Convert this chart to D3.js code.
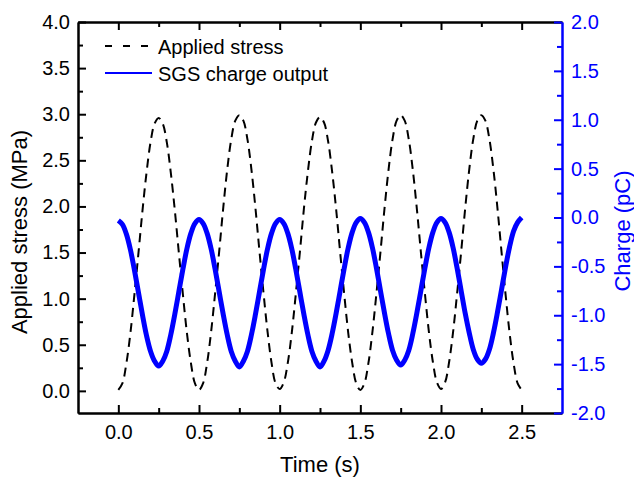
<!DOCTYPE html>
<html>
<head>
<meta charset="utf-8">
<script src="https://cdn.jsdelivr.net/npm/d3@7"></script>
<style>
  html, body { margin: 0; padding: 0; background: #fff; }
  text { font-family: "Liberation Sans", Arial, sans-serif; }
</style>
</head>
<body>
<svg id="chart" width="634" height="478"></svg>
<script>
// ---- data ----
const timeStart = 0, timeStep = 0.025; // seconds, sampling of both series
const stressMPa = [
  0.01, 0.08, 0.30, 0.63, 1.05, 1.50, 1.96, 2.37, 2.70, 2.90, 2.96, 2.90, 2.70, 2.37, 1.96, 1.50, 1.05, 0.63, 0.30, 0.08, 0.01,
  0.08, 0.30, 0.64, 1.06, 1.51, 1.98, 2.40, 2.73, 2.93, 2.99, 2.93, 2.73, 2.40, 1.98, 1.51, 1.06, 0.64, 0.30, 0.08, 0.02,
  0.09, 0.30, 0.63, 1.05, 1.50, 1.97, 2.38, 2.71, 2.91, 2.97, 2.91, 2.71, 2.38, 1.97, 1.50, 1.05, 0.63, 0.30, 0.08, 0.01,
  0.08, 0.30, 0.64, 1.06, 1.51, 1.98, 2.40, 2.73, 2.93, 2.99, 2.93, 2.73, 2.40, 1.98, 1.51, 1.06, 0.64, 0.31, 0.09, 0.02,
  0.09, 0.31, 0.64, 1.06, 1.51, 1.98, 2.40, 2.73, 2.93, 2.99, 2.93, 2.73, 2.40, 1.98, 1.51, 1.05, 0.63, 0.30, 0.08, 0.01
];
const chargePC = [
  -0.03, -0.07, -0.17, -0.33, -0.54, -0.77, -1.00, -1.21, -1.37, -1.47, -1.52, -1.47, -1.37, -1.20, -0.99, -0.76, -0.53, -0.32, -0.16, -0.06, -0.02,
  -0.06, -0.16, -0.32, -0.53, -0.76, -0.99, -1.20, -1.37, -1.47, -1.53, -1.47, -1.37, -1.20, -0.99, -0.76, -0.53, -0.32, -0.16, -0.06, -0.02,
  -0.06, -0.16, -0.32, -0.53, -0.76, -0.99, -1.20, -1.37, -1.47, -1.53, -1.47, -1.36, -1.19, -0.98, -0.75, -0.52, -0.31, -0.15, -0.05, -0.01,
  -0.05, -0.15, -0.31, -0.52, -0.75, -0.98, -1.19, -1.36, -1.46, -1.51, -1.46, -1.36, -1.19, -0.98, -0.75, -0.52, -0.31, -0.15, -0.05, -0.01,
  -0.05, -0.15, -0.31, -0.52, -0.75, -0.98, -1.18, -1.35, -1.45, -1.49, -1.45, -1.35, -1.18, -0.97, -0.74, -0.51, -0.30, -0.14, -0.05, 0.00
];
const xTicks = [0.0, 0.5, 1.0, 1.5, 2.0, 2.5];
const xMinorTicks = [0.25, 0.75, 1.25, 1.75, 2.25];
const yLeftTicks = [0.0, 0.5, 1.0, 1.5, 2.0, 2.5, 3.0, 3.5, 4.0];
const yLeftMinorTicks = [0.25, 0.75, 1.25, 1.75, 2.25, 2.75, 3.25, 3.75];
const yRightTicks = [-2.0, -1.5, -1.0, -0.5, 0.0, 0.5, 1.0, 1.5, 2.0];
const yRightMinorTicks = [-1.75, -1.25, -0.75, -0.25, 0.25, 0.75, 1.25, 1.75];
const legendLabels = ["Applied stress", "SGS charge output"];
const axisTitles = { x: "Time (s)", yLeft: "Applied stress (MPa)", yRight: "Charge (pC)" };

// ---- layout ----
const L = 78, R = 562, T = 22, B = 413;
const BLUE = "#0000ff";
const svg = d3.select("#chart");

const x = d3.scaleLinear().domain([-0.25, 2.75]).range([L, R]);
const yL = d3.scaleLinear().domain([-0.24, 4.0]).range([B, T]);
const yR = d3.scaleLinear().domain([-2.0, 2.0]).range([B, T]);
const fmt = d => d.toFixed(1);

const stressData = stressMPa.map((v, i) => ({ t: timeStart + i * timeStep, v }));
const chargeData = chargePC.map((v, i) => ({ t: timeStart + i * timeStep, v }));

// ---- series ----
svg.append("path")
  .datum(stressData)
  .attr("fill", "none")
  .attr("stroke", "#000")
  .attr("stroke-width", 2)
  .attr("stroke-dasharray", "9,6")
  .attr("d", d3.line().x(d => x(d.t)).y(d => yL(d.v)).curve(d3.curveCatmullRom));

svg.append("path")
  .datum(chargeData)
  .attr("fill", "none")
  .attr("stroke", BLUE)
  .attr("stroke-width", 5)
  .attr("stroke-linejoin", "round")
  .attr("d", d3.line().x(d => x(d.t)).y(d => yR(d.v)).curve(d3.curveCatmullRom));

// ---- axes ----
function styleAxis(g, color, fontSize) {
  g.selectAll("path.domain").attr("stroke", color).attr("stroke-width", 2);
  g.selectAll(".tick line").attr("stroke", color).attr("stroke-width", 2);
  g.selectAll(".tick text").attr("fill", color).style("font-size", fontSize + "px")
    .attr("font-family", "Liberation Sans, Arial, sans-serif");
}

// bottom
const gB = svg.append("g").attr("transform", `translate(0,${B})`)
  .call(d3.axisBottom(x).tickValues(xTicks).tickFormat(fmt).tickSize(-8).tickSizeOuter(0).tickPadding(12));
styleAxis(gB, "#000", 20);
const gBm = svg.append("g").attr("transform", `translate(0,${B})`)
  .call(d3.axisBottom(x).tickValues(xMinorTicks).tickFormat("").tickSize(-5).tickSizeOuter(0));
styleAxis(gBm, "#000", 20);
// top
const gT = svg.append("g").attr("transform", `translate(0,${T})`)
  .call(d3.axisTop(x).tickValues(xTicks).tickFormat("").tickSize(-8).tickSizeOuter(0));
styleAxis(gT, "#000", 20);
const gTm = svg.append("g").attr("transform", `translate(0,${T})`)
  .call(d3.axisTop(x).tickValues(xMinorTicks).tickFormat("").tickSize(-5).tickSizeOuter(0));
styleAxis(gTm, "#000", 20);
// left
const gL = svg.append("g").attr("transform", `translate(${L},0)`)
  .call(d3.axisLeft(yL).tickValues(yLeftTicks).tickFormat(fmt).tickSize(-8).tickSizeOuter(0).tickPadding(8));
styleAxis(gL, "#000", 20);
const gLm = svg.append("g").attr("transform", `translate(${L},0)`)
  .call(d3.axisLeft(yL).tickValues(yLeftMinorTicks).tickFormat("").tickSize(-5).tickSizeOuter(0));
styleAxis(gLm, "#000", 20);
// right (blue)
const gR = svg.append("g").attr("transform", `translate(${R},0)`)
  .call(d3.axisRight(yR).tickValues(yRightTicks).tickFormat(fmt).tickSize(-8).tickSizeOuter(0).tickPadding(9));
styleAxis(gR, BLUE, 20);
const gRm = svg.append("g").attr("transform", `translate(${R},0)`)
  .call(d3.axisRight(yR).tickValues(yRightMinorTicks).tickFormat("").tickSize(-5).tickSizeOuter(0));
styleAxis(gRm, BLUE, 20);

// ---- axis titles ----
svg.append("text").attr("x", (L + R) / 2).attr("y", 472).attr("text-anchor", "middle")
  .style("font-size", "22px").attr("fill", "#000").text(axisTitles.x);
svg.append("text").attr("transform", "translate(27,232) rotate(-90)").attr("text-anchor", "middle")
  .style("font-size", "22px").attr("fill", "#000").text(axisTitles.yLeft);
svg.append("text").attr("transform", "translate(630,231) rotate(-90)").attr("text-anchor", "middle")
  .style("font-size", "22px").attr("fill", BLUE).text(axisTitles.yRight);

// ---- legend ----
const lg = svg.append("g");
lg.append("line").attr("x1", 105).attr("x2", 152).attr("y1", 46).attr("y2", 46)
  .attr("stroke", "#000").attr("stroke-width", 2).attr("stroke-dasharray", "7,11");
lg.append("text").attr("x", 158).attr("y", 54).style("font-size", "20px").attr("fill", "#000").text(legendLabels[0]);
lg.append("line").attr("x1", 105).attr("x2", 152).attr("y1", 73).attr("y2", 73)
  .attr("stroke", BLUE).attr("stroke-width", 2);
lg.append("text").attr("x", 158).attr("y", 81).style("font-size", "20px").attr("fill", "#000").text(legendLabels[1]);
</script>
</body>
</html>
